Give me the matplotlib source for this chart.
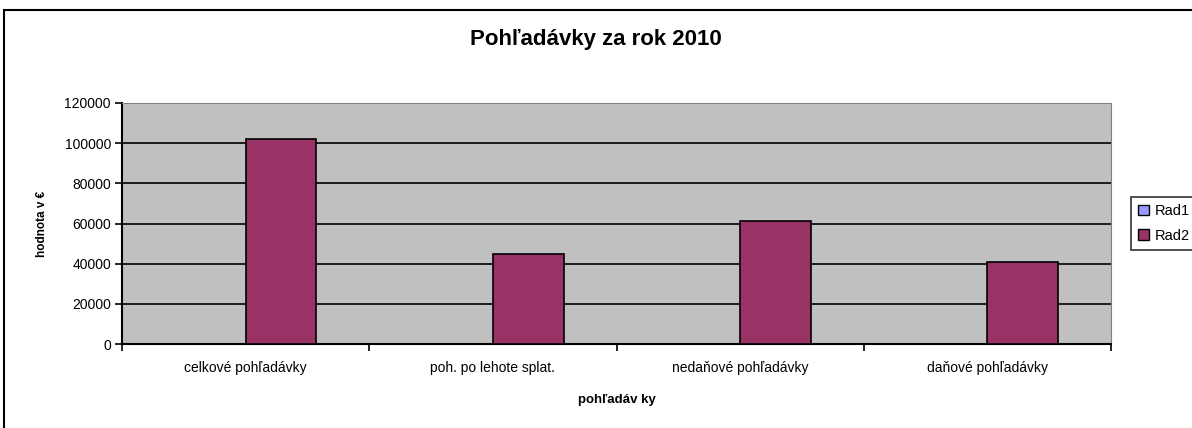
import numpy as np
import matplotlib

matplotlib.use("Agg")
import matplotlib.pyplot as plt
from matplotlib.patches import Rectangle, Patch

plt.rcParams["font.family"] = ["Liberation Sans", "DejaVu Sans"]

# data
categories = ["celkové pohľadávky", "poh. po lehote splat.",
              "nedaňové pohľadávky", "daňové pohľadávky"]
rad1 = [0, 0, 0, 0]
rad2 = [102000, 45000, 61000, 41000]
series_names = ["Rad1", "Rad2"]
yticks = [0, 20000, 40000, 60000, 80000, 100000, 120000]

W, H = 1192, 428
fig = plt.figure(figsize=(W / 100, H / 100), dpi=100)

# outer chart border (only top/left visible in the crop)
fig.patches.append(Rectangle((4 / W, -0.5), 2.0, 0.5 + 1 - 10 / H,
                             transform=fig.transFigure, fill=False,
                             edgecolor="black", linewidth=1.5))

ax = fig.add_axes([122 / W, 1 - 344 / H, (1111 - 122) / W, (344 - 103) / H])
ax.set_facecolor("#C0C0C0")

x = np.arange(len(categories))
bw = 1 / 3.5
ax.bar(x - bw / 2, rad1, bw, color="#9999FF", edgecolor="black", linewidth=1.2)
ax.bar(x + bw / 2, rad2, bw, color="#993366", edgecolor="black", linewidth=1.2,
       zorder=3)

ax.set_xlim(-0.5, len(categories) - 0.5)
ax.set_ylim(0, 120000)
ax.set_yticks(yticks)
ax.set_yticklabels([str(v) for v in yticks], fontsize=10)
ax.yaxis.grid(True, color="black", linewidth=1.2)
ax.set_axisbelow(True)

# ticks sit on the category boundaries, labels centred in between
ax.set_xticks(np.arange(-0.5, len(categories)), minor=False)
ax.set_xticklabels([])
ax.set_xticks(x, minor=True)
ax.set_xticklabels(categories, minor=True, fontsize=10)
ax.tick_params(axis="x", which="minor", length=0, pad=12)
ax.tick_params(axis="x", which="major", length=5, width=1.2, direction="out")
ax.tick_params(axis="y", length=5, width=1.2, direction="out", pad=3)

for s in ["left", "bottom"]:
    ax.spines[s].set_linewidth(1.5)
ax.spines["top"].set_color("#808080")
ax.spines["right"].set_color("#808080")

ax.set_ylabel("hodnota v €", fontsize=8.5, fontweight="bold", labelpad=12)
ax.set_xlabel("pohľadáv ky", fontsize=9.5, fontweight="bold", labelpad=14)

fig.text(0.5, 1 - 40 / H, "Pohľadávky za rok 2010", ha="center",
         va="center", fontsize=16, fontweight="bold")

handles = [Patch(facecolor="#9999FF", edgecolor="black"),
           Patch(facecolor="#993366", edgecolor="black")]
leg = fig.legend(handles, series_names, loc="upper left",
                 bbox_to_anchor=(1131 / W, 1 - 197 / H), fontsize=10.5,
                 frameon=True, fancybox=False, handlelength=0.7,
                 handleheight=0.7, handletextpad=0.4, borderpad=0.5,
                 labelspacing=0.7, borderaxespad=0)
leg.get_frame().set_edgecolor("black")
leg.get_frame().set_linewidth(1.2)

fig.savefig("out.png", dpi=100)
